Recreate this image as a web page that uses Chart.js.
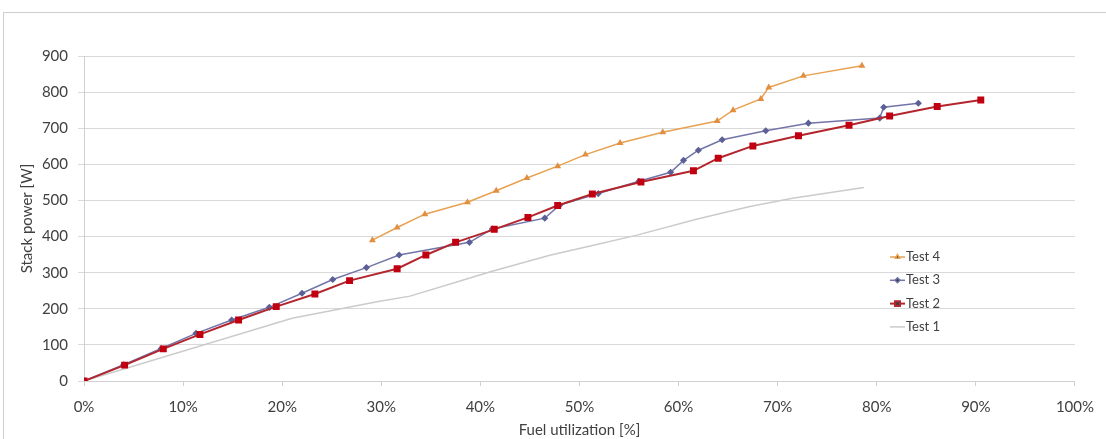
<!DOCTYPE html>
<html>
<head>
<meta charset="utf-8">
<script src="https://cdn.jsdelivr.net/npm/chart.js@4/dist/chart.umd.min.js"></script>
<style>
  html, body { margin: 0; padding: 0; background: #fff; }
  #wrap { position: relative; width: 1106px; height: 439px; }
</style>
</head>
<body>
<div id="wrap"><canvas id="powerChart" width="1106" height="439"></canvas></div>
<script>
// Stack power vs fuel utilization, four tests
const seriesNames = ['Test 1', 'Test 2', 'Test 3', 'Test 4'];

const test1X = [0, 21.0, 29.7, 32.9, 37.7, 41.1, 47.1, 51.1, 55.8, 61.8, 67.2, 71.5, 78.7];
const test1Y = [0, 174, 220, 235, 275, 303, 349, 374, 404, 448, 483, 506, 536];

const test2X = [0, 4.1, 8.0, 11.7, 15.6, 19.4, 23.3, 26.8, 31.6, 34.5, 37.5, 41.4, 44.8, 47.8, 51.3, 56.2, 61.5, 64.0, 67.5, 72.1, 77.2, 81.3, 86.1, 90.5];
const test2Y = [0, 44, 89, 129, 169, 206, 241, 278, 311, 349, 384, 420, 453, 486, 518, 551, 582, 617, 651, 679, 708, 734, 760, 778];

const test3X = [0, 4.0, 7.8, 11.3, 14.9, 18.7, 22.0, 25.1, 28.5, 31.8, 38.9, 41.2, 46.5, 48.0, 51.9, 56.0, 59.2, 60.5, 62.0, 64.4, 68.8, 73.1, 80.3, 80.7, 84.2];
const test3Y = [0, 45, 90, 132, 169, 204, 243, 281, 314, 349, 384, 421, 451, 487, 519, 553, 578, 611, 639, 668, 693, 714, 728, 758, 769];

const test4X = [29.1, 31.6, 34.4, 38.7, 41.6, 44.7, 47.8, 50.6, 54.1, 58.4, 63.9, 65.5, 68.3, 69.1, 72.6, 78.5];
const test4Y = [390, 425, 462, 495, 527, 562, 595, 627, 659, 689, 720, 750, 781, 813, 845, 873];

const xTickStep = 10;   // percent
const yTickStep = 100;  // W

const FONT = 'Lato, "Open Sans", sans-serif';

function toPoints(xs, ys) {
    return xs.map((x, i) => ({ x: x, y: ys[i] }));
}

// outer frame like the spreadsheet chart border
const framePlugin = {
    id: 'frame',
    beforeDraw(chart) {
        const ctx = chart.ctx;
        ctx.save();
        ctx.strokeStyle = '#cfcfcf';
        ctx.lineWidth = 1;
        ctx.strokeRect(3.5, 12.5, chart.width + 10, chart.height + 10);
        ctx.restore();
    }
};

// legend drawn inside the plot, Test 4 on top
const insideLegend = {
    id: 'insideLegend',
    afterDraw(chart) {
        const ctx = chart.ctx;
        const items = chart.data.datasets.slice().reverse();
        const x0 = 890, x1 = 905;
        let y = 257;
        ctx.save();
        ctx.font = '13px ' + FONT;
        ctx.textBaseline = 'middle';
        items.forEach(ds => {
            ctx.strokeStyle = ds.borderColor;
            ctx.lineWidth = ds.borderWidth;
            ctx.beginPath();
            ctx.moveTo(x0, y);
            ctx.lineTo(x1, y);
            ctx.stroke();
            if (ds.pointRadius > 0) {
                Chart.helpers.drawPoint(ctx, {
                    pointStyle: ds.pointStyle,
                    radius: ds.pointRadius,
                    borderWidth: 1
                }, (x0 + x1) / 2, y);
            }
            ctx.fillStyle = '#404040';
            ctx.fillText(ds.label, x1 + 1, y);
            y += 23.3;
        });
        ctx.restore();
    }
};

const canvas = document.getElementById('powerChart');
const ctxDefaults = Chart.defaults;
ctxDefaults.font.family = FONT;
ctxDefaults.color = '#404040';

new Chart(canvas, {
    type: 'line',
    data: {
        datasets: [
            {
                label: seriesNames[0],
                data: toPoints(test1X, test1Y),
                borderColor: '#cbcbcb',
                backgroundColor: '#cbcbcb',
                borderWidth: 1.5,
                pointRadius: 0,
                order: 3
            },
            {
                label: seriesNames[1],
                data: toPoints(test2X, test2Y),
                borderColor: '#b3262e',
                backgroundColor: '#c00010',
                pointBorderColor: '#c00010',
                borderWidth: 2,
                pointStyle: 'rect',
                pointRadius: 3.5,
                order: 0
            },
            {
                label: seriesNames[2],
                data: toPoints(test3X, test3Y),
                borderColor: '#7275a8',
                backgroundColor: '#5d6096',
                pointBorderColor: '#5d6096',
                borderWidth: 1.5,
                pointStyle: 'rectRot',
                pointRadius: 2.5,
                order: 1
            },
            {
                label: seriesNames[3],
                data: toPoints(test4X, test4Y),
                borderColor: '#e8a150',
                backgroundColor: '#e09040',
                pointBorderColor: '#e09040',
                borderWidth: 1.5,
                pointStyle: 'triangle',
                pointRadius: 2.5,
                order: 2
            }
        ]
    },
    options: {
        responsive: false,
        animation: false,
        layout: {
            padding: { top: 56, right: 26, left: 0, bottom: 0 }
        },
        scales: {
            x: {
                type: 'linear',
                min: 0,
                max: 100,
                ticks: {
                    stepSize: xTickStep,
                    padding: 12,
                    font: { size: 15 },
                    color: '#404040',
                    callback: v => v + '%'
                },
                grid: {
                    drawOnChartArea: false,
                    drawTicks: true,
                    tickLength: 5,
                    color: '#d0d0d0'
                },
                border: { color: '#d0d0d0' },
                title: {
                    display: true,
                    text: 'Fuel utilization [%]',
                    font: { size: 15 },
                    color: '#404040',
                    padding: { top: 0, bottom: 0 }
                },
                afterFit: s => { s.height = 58; }
            },
            y: {
                min: 0,
                max: 900,
                ticks: {
                    stepSize: yTickStep,
                    padding: 10,
                    font: { size: 15 },
                    color: '#404040'
                },
                grid: {
                    color: '#d9d9d9',
                    tickLength: 6
                },
                border: { display: true, color: '#d0d0d0' },
                title: {
                    display: true,
                    text: 'Stack power [W]',
                    font: { size: 15 },
                    color: '#404040',
                    padding: { top: 18, bottom: 0 }
                },
                afterFit: s => { s.width = 84; }
            }
        },
        plugins: {
            legend: { display: false },
            tooltip: { enabled: false }
        }
    },
    plugins: [framePlugin, insideLegend]
});
</script>
</body>
</html>
